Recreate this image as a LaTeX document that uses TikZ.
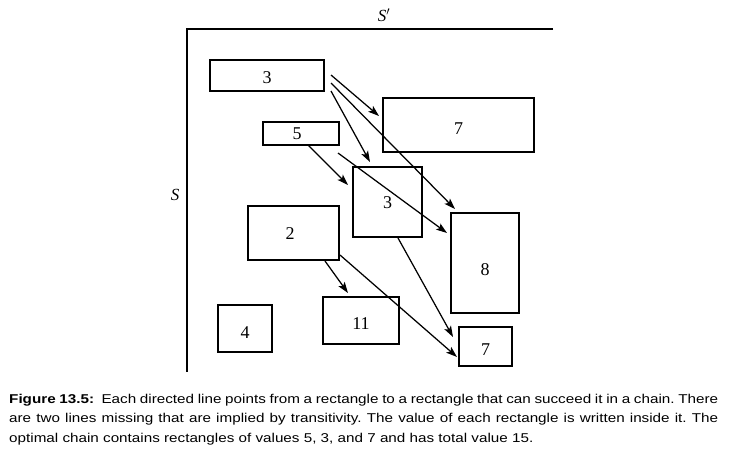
\documentclass[tikz,border=0pt]{standalone}
\usepackage{fontspec}
\setmainfont{Liberation Serif}
\newfontfamily\capfont[FakeStretch=1.19]{Liberation Sans}
\usetikzlibrary{arrows.meta}
\frenchspacing
\begin{document}
\begin{tikzpicture}[x=1pt,y=-1pt,
  box/.style={draw, line width=1.7pt, inner sep=0pt, text depth=0pt, font=\fontsize{18}{20}\selectfont},
  arr/.style={line width=1.25pt, -{Stealth[length=11pt,width=7.5pt,inset=2.5pt]}},
  axis/.style={line width=1.8pt},
  lbl/.style={font=\fontsize{17}{20}\selectfont\itshape}]
\useasboundingbox (0,0) rectangle (729,459);
% axes
\coordinate (corner) at (187,29);
\coordinate (xend) at (553,29);
\coordinate (yend) at (187,372);
\draw[axis] (xend) -- (corner) -- (yend);
\node[lbl] (sp) at (384,15) {S$'$};
\node[lbl] (s) at (175,195) {S};
% rectangles
\node[box, minimum width=114pt, minimum height=31pt, text height=15.2pt] (r3a) at (267,75.5) {3};
\node[box, minimum width=151pt, minimum height=54pt, text height=18.2pt] (r7a) at (458.5,125) {7};
\node[box, minimum width=76pt, minimum height=23pt, text height=12.2pt] (r5) at (301,133.5) {\hspace*{-8pt}5};
\node[box, minimum width=69pt, minimum height=70pt, text height=12.2pt] (r3b) at (387.5,202) {3};
\node[box, minimum width=68pt, minimum height=100pt, text height=24.2pt] (r8) at (485,263) {8};
\node[box, minimum width=91pt, minimum height=54pt, text height=12.2pt] (r2) at (293.5,233) {\hspace*{-7pt}2};
\node[box, minimum width=76pt, minimum height=47pt, text height=17.2pt] (r11) at (361,320.5) {11};
\node[box, minimum width=54pt, minimum height=47pt, text height=19.2pt] (r4) at (245,328.5) {4};
\node[box, minimum width=53pt, minimum height=39pt, text height=17.2pt] (r7b) at (485.5,346.5) {7};
% connector ends
\coordinate (a1s) at (331,75);  \coordinate (a1e) at (379,116);
\coordinate (a2s) at (331,83);  \coordinate (a2e) at (455,209);
\coordinate (a3s) at (331,91);  \coordinate (a3e) at (370,162);
\coordinate (a4s) at (308,145); \coordinate (a4e) at (348,185);
\coordinate (a5s) at (338,153); \coordinate (a5e) at (447,233);
\coordinate (a6s) at (398,238); \coordinate (a6e) at (453,337);
\coordinate (a7s) at (325,261); \coordinate (a7e) at (348,293);
\coordinate (a8s) at (340,255); \coordinate (a8e) at (457,357);
\draw[arr] (a1s) -- (a1e);
\draw[arr] (a2s) -- (a2e);
\draw[arr] (a3s) -- (a3e);
\draw[arr] (a4s) -- (a4e);
\draw[arr] (a5s) -- (a5e);
\draw[arr] (a6s) -- (a6e);
\draw[arr] (a7s) -- (a7e);
\draw[arr] (a8s) -- (a8e);
% caption
\node[anchor=north west, text width=709pt, align=justify, inner sep=0pt,
  font=\capfont\fontsize{12.8}{19.5}\selectfont] (cap) at (9,394)
  {\textbf{Figure 13.5:}\ \ Each directed line points from a rectangle to a rectangle that can succeed it in a chain. There\linebreak
  are two lines missing that are implied by transitivity. The value of each rectangle is written inside it. The\linebreak
  optimal chain contains rectangles of values 5, 3, and 7 and has total value 15.};
\end{tikzpicture}
\end{document}
